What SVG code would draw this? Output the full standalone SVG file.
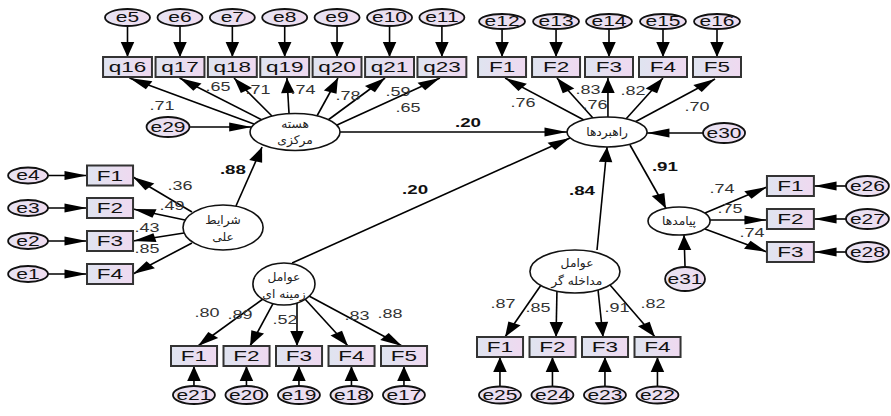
<svg xmlns="http://www.w3.org/2000/svg" width="891" height="416" viewBox="0 0 891 416">
  <defs>
    <style>
      .a { stroke: #000; stroke-width: 1.6; fill: none; vector-effect: non-scaling-stroke; marker-end: url(#ah); }
      .box { fill: url(#boxFill); stroke: #333; stroke-width: 2; vector-effect: non-scaling-stroke; }
      .err { fill: url(#errFill); stroke: #111; stroke-width: 1.8; vector-effect: non-scaling-stroke; }
      .lat { fill: #fff; stroke: #111; stroke-width: 1.6; vector-effect: non-scaling-stroke; }
      text { text-anchor: middle; dominant-baseline: central; }
      .n { font-family: "Liberation Sans", Arial, sans-serif; font-size: 15px; fill: #111; }
      .e { font-family: "Liberation Sans", Arial, sans-serif; font-size: 14px; fill: #111; }
      .c { font-family: "Liberation Sans", Arial, sans-serif; font-size: 12px; fill: #333; }
      .b { font-family: "Liberation Sans", Arial, sans-serif; font-size: 12.5px; font-weight: bold; fill: #111; }
      .fa { font-family: "DejaVu Sans", "Noto Sans", sans-serif; font-size: 12px; fill: #222; direction: rtl;
            transform-box: fill-box; transform-origin: center; transform: scaleX(0.68); }
    </style>
    <linearGradient id="boxFill" x1="0" y1="0" x2="1" y2="0">
      <stop offset="0" stop-color="#dfe4f0"/>
      <stop offset="1" stop-color="#efd9f0"/>
    </linearGradient>
    <linearGradient id="errFill" x1="0" y1="0" x2="1" y2="0">
      <stop offset="0" stop-color="#e6e3f3"/>
      <stop offset="1" stop-color="#f0dcef"/>
    </linearGradient>
    <marker id="ah" markerUnits="userSpaceOnUse" markerWidth="16" markerHeight="10" refX="15" refY="4.5" orient="auto" overflow="visible">
      <path d="M0,0 L15,4.5 L0,9 Z" fill="#000"/>
    </marker>
  </defs>

  <rect width="891" height="416" fill="#fff"/>

  <!-- the model is laid out in a horizontally stretched frame -->
  <g transform="scale(1.5,1)">

    <g id="connectors">
      <!-- errors to core indicators -->
      <line class="a" x1="85" y1="26" x2="85" y2="57"/>
      <line class="a" x1="120" y1="26" x2="120" y2="57"/>
      <line class="a" x1="154.9" y1="26" x2="154.9" y2="57"/>
      <line class="a" x1="189.8" y1="26" x2="189.8" y2="57"/>
      <line class="a" x1="224.7" y1="26" x2="224.7" y2="57"/>
      <line class="a" x1="259.7" y1="26" x2="259.7" y2="57"/>
      <line class="a" x1="294.6" y1="26" x2="294.6" y2="57"/>
      <!-- core loadings -->
      <line class="a" x1="169.3" y1="124" x2="86.3" y2="78"/>
      <line class="a" x1="174.7" y1="120" x2="119.7" y2="78"/>
      <line class="a" x1="181.3" y1="116" x2="156" y2="78"/>
      <line class="a" x1="192.7" y1="114" x2="191.3" y2="78"/>
      <line class="a" x1="211.3" y1="116" x2="225.3" y2="78"/>
      <line class="a" x1="218.7" y1="120" x2="256.7" y2="78"/>
      <line class="a" x1="224.7" y1="125" x2="293.3" y2="78"/>
      <line class="a" x1="126.7" y1="127" x2="167.8" y2="127"/>
      <!-- structural paths -->
      <line class="a" x1="226.7" y1="132" x2="378" y2="132"/>
      <line class="a" x1="157.3" y1="206" x2="174.7" y2="147"/>
      <line class="a" x1="194.7" y1="263" x2="380" y2="138"/>
      <line class="a" x1="398" y1="250" x2="404.7" y2="147"/>
      <line class="a" x1="420" y1="145" x2="444" y2="208.5"/>
      <line class="a" x1="468.7" y1="133" x2="431.3" y2="133"/>
      <line class="a" x1="456.7" y1="267" x2="456" y2="235"/>
      <!-- errors to strategy indicators -->
      <line class="a" x1="334.7" y1="29" x2="334.7" y2="57"/>
      <line class="a" x1="370.7" y1="29" x2="370.7" y2="57"/>
      <line class="a" x1="406" y1="29" x2="406" y2="57"/>
      <line class="a" x1="442" y1="29" x2="442" y2="57"/>
      <line class="a" x1="478" y1="29" x2="478" y2="57"/>
      <!-- strategy loadings -->
      <line class="a" x1="389.3" y1="120" x2="336.7" y2="78"/>
      <line class="a" x1="395.3" y1="118" x2="371.3" y2="78"/>
      <line class="a" x1="405.3" y1="117" x2="405.3" y2="78"/>
      <line class="a" x1="417.3" y1="119" x2="442" y2="78"/>
      <line class="a" x1="423.3" y1="122" x2="476.7" y2="79"/>
      <!-- causal conditions -->
      <line class="a" x1="32" y1="175.5" x2="58" y2="175.5"/>
      <line class="a" x1="32" y1="208" x2="58" y2="208"/>
      <line class="a" x1="32" y1="241" x2="58" y2="241"/>
      <line class="a" x1="32" y1="274" x2="58" y2="274"/>
      <line class="a" x1="128" y1="212" x2="88.7" y2="177"/>
      <line class="a" x1="123.3" y1="220" x2="88.7" y2="209"/>
      <line class="a" x1="122.7" y1="233" x2="88.7" y2="241"/>
      <line class="a" x1="128" y1="243" x2="88.7" y2="274"/>
      <!-- context loadings -->
      <line class="a" x1="175.3" y1="299" x2="132" y2="346"/>
      <line class="a" x1="182" y1="303.6" x2="166.7" y2="346"/>
      <line class="a" x1="198" y1="303" x2="198" y2="346"/>
      <line class="a" x1="203.3" y1="299" x2="232" y2="346"/>
      <line class="a" x1="206" y1="296" x2="268" y2="346"/>
      <line class="a" x1="129.3" y1="386" x2="129.3" y2="366"/>
      <line class="a" x1="164.3" y1="386" x2="164.3" y2="366"/>
      <line class="a" x1="199.3" y1="386" x2="199.3" y2="366"/>
      <line class="a" x1="234.3" y1="386" x2="234.3" y2="366"/>
      <line class="a" x1="269.3" y1="386" x2="269.3" y2="366"/>
      <!-- intervening loadings -->
      <line class="a" x1="360.7" y1="285" x2="336.7" y2="337"/>
      <line class="a" x1="371.3" y1="291" x2="370.7" y2="337"/>
      <line class="a" x1="398.7" y1="290" x2="402" y2="337"/>
      <line class="a" x1="406.7" y1="285" x2="436.7" y2="337"/>
      <line class="a" x1="333.3" y1="386.5" x2="333.3" y2="357"/>
      <line class="a" x1="368.3" y1="386.5" x2="368.3" y2="357"/>
      <line class="a" x1="403.3" y1="386.5" x2="403.3" y2="357"/>
      <line class="a" x1="438.3" y1="386.5" x2="438.3" y2="357"/>
      <!-- outcome loadings -->
      <line class="a" x1="470" y1="213" x2="511.3" y2="187"/>
      <line class="a" x1="473.3" y1="220" x2="511.3" y2="220"/>
      <line class="a" x1="470" y1="229" x2="511.3" y2="252"/>
      <line class="a" x1="564" y1="186" x2="542.7" y2="186"/>
      <line class="a" x1="564" y1="219" x2="542.7" y2="219"/>
      <line class="a" x1="564" y1="252" x2="542.7" y2="252"/>
    </g>

    <g id="coefficients">
      <text class="c" x="108" y="106">.71</text>
      <text class="c" x="145.3" y="87">.65</text>
      <text class="c" x="172" y="90">.71</text>
      <text class="c" x="202" y="90">.74</text>
      <text class="c" x="232" y="96">.78</text>
      <text class="c" x="265.3" y="92">.59</text>
      <text class="c" x="272" y="108">.65</text>
      <text class="c" x="348.7" y="103">.76</text>
      <text class="c" x="392" y="90">.83</text>
      <text class="c" x="396.7" y="105">.76</text>
      <text class="c" x="422" y="91">.82</text>
      <text class="c" x="464.7" y="107">.70</text>
      <text class="c" x="120" y="186">.36</text>
      <text class="c" x="114.7" y="206">.49</text>
      <text class="c" x="98" y="228">.43</text>
      <text class="c" x="98" y="249">.85</text>
      <text class="c" x="138" y="313">.80</text>
      <text class="c" x="160" y="315">.89</text>
      <text class="c" x="190" y="320">.52</text>
      <text class="c" x="238" y="316">.83</text>
      <text class="c" x="260" y="314">.88</text>
      <text class="c" x="335.3" y="304">.87</text>
      <text class="c" x="358.7" y="308">.85</text>
      <text class="c" x="411.3" y="308">.91</text>
      <text class="c" x="435.3" y="304">.82</text>
      <text class="c" x="481.3" y="189">.74</text>
      <text class="c" x="486.7" y="209">.75</text>
      <text class="c" x="501.3" y="233">.74</text>
      <text class="b" x="312" y="123">.20</text>
      <text class="b" x="155.3" y="170">.88</text>
      <text class="b" x="276.7" y="190">.20</text>
      <text class="b" x="388" y="191">.84</text>
      <text class="b" x="443.3" y="167">.91</text>
    </g>

    <!-- core category and its indicators -->
    <g id="core">
      <ellipse class="lat" cx="196.7" cy="132" rx="30" ry="18.5"/>
      <text class="fa" x="196.7" y="124">هسته</text>
      <text class="fa" x="196.7" y="140">مرکزی</text>
    </g>
    <g id="e29"><ellipse class="err" cx="112" cy="127" rx="14.3" ry="10"/><text class="e" x="112" y="127">e29</text></g>
    <g id="e5"><ellipse class="err" cx="85" cy="17.5" rx="15" ry="8.5"/><text class="e" x="85" y="17.5">e5</text></g>
    <g id="e6"><ellipse class="err" cx="120" cy="17.5" rx="15" ry="8.5"/><text class="e" x="120" y="17.5">e6</text></g>
    <g id="e7"><ellipse class="err" cx="154.9" cy="17.5" rx="15" ry="8.5"/><text class="e" x="154.9" y="17.5">e7</text></g>
    <g id="e8"><ellipse class="err" cx="189.8" cy="17.5" rx="15" ry="8.5"/><text class="e" x="189.8" y="17.5">e8</text></g>
    <g id="e9"><ellipse class="err" cx="224.7" cy="17.5" rx="15" ry="8.5"/><text class="e" x="224.7" y="17.5">e9</text></g>
    <g id="e10"><ellipse class="err" cx="259.7" cy="17.5" rx="15" ry="8.5"/><text class="e" x="259.7" y="17.5">e10</text></g>
    <g id="e11"><ellipse class="err" cx="294.6" cy="17.5" rx="15" ry="8.5"/><text class="e" x="294.6" y="17.5">e11</text></g>
    <g id="q16"><rect class="box" x="68.7" y="57" width="32.6" height="20"/><text class="n" x="85" y="67">q16</text></g>
    <g id="q17"><rect class="box" x="103.7" y="57" width="32.6" height="20"/><text class="n" x="120" y="67">q17</text></g>
    <g id="q18"><rect class="box" x="138.6" y="57" width="32.6" height="20"/><text class="n" x="154.9" y="67">q18</text></g>
    <g id="q19"><rect class="box" x="173.5" y="57" width="32.6" height="20"/><text class="n" x="189.8" y="67">q19</text></g>
    <g id="q20"><rect class="box" x="208.4" y="57" width="32.6" height="20"/><text class="n" x="224.7" y="67">q20</text></g>
    <g id="q21"><rect class="box" x="243.4" y="57" width="32.6" height="20"/><text class="n" x="259.7" y="67">q21</text></g>
    <g id="q23"><rect class="box" x="278.3" y="57" width="32.6" height="20"/><text class="n" x="294.6" y="67">q23</text></g>

    <!-- strategies -->
    <g id="strategies">
      <ellipse class="lat" cx="404.7" cy="132" rx="26.7" ry="15"/>
      <text class="fa" x="404.7" y="132">راهبردها</text>
    </g>
    <g id="e30"><ellipse class="err" cx="482.7" cy="133" rx="14" ry="10"/><text class="e" x="482.7" y="133">e30</text></g>
    <g id="e12"><ellipse class="err" cx="334.7" cy="21.5" rx="15.3" ry="7.5"/><text class="e" x="334.7" y="21.5">e12</text></g>
    <g id="e13"><ellipse class="err" cx="370.7" cy="21.5" rx="15.3" ry="7.5"/><text class="e" x="370.7" y="21.5">e13</text></g>
    <g id="e14"><ellipse class="err" cx="406" cy="21.5" rx="15.3" ry="7.5"/><text class="e" x="406" y="21.5">e14</text></g>
    <g id="e15"><ellipse class="err" cx="442" cy="21.5" rx="15.3" ry="7.5"/><text class="e" x="442" y="21.5">e15</text></g>
    <g id="e16"><ellipse class="err" cx="478" cy="21.5" rx="15.3" ry="7.5"/><text class="e" x="478" y="21.5">e16</text></g>
    <g id="strat-F1"><rect class="box" x="318.7" y="57" width="32" height="20"/><text class="n" x="334.7" y="67">F1</text></g>
    <g id="strat-F2"><rect class="box" x="354.7" y="57" width="32" height="20"/><text class="n" x="370.7" y="67">F2</text></g>
    <g id="strat-F3"><rect class="box" x="390" y="57" width="32" height="20"/><text class="n" x="406" y="67">F3</text></g>
    <g id="strat-F4"><rect class="box" x="426" y="57" width="32" height="20"/><text class="n" x="442" y="67">F4</text></g>
    <g id="strat-F5"><rect class="box" x="462" y="57" width="32" height="20"/><text class="n" x="478" y="67">F5</text></g>

    <!-- causal conditions -->
    <g id="causal">
      <ellipse class="lat" cx="148.7" cy="227.5" rx="26.7" ry="22.5"/>
      <text class="fa" x="148.7" y="220">شرایط</text>
      <text class="fa" x="148.7" y="237">علی</text>
    </g>
    <g id="e4"><ellipse class="err" cx="18.7" cy="175.5" rx="13.3" ry="8"/><text class="e" x="18.7" y="175.5">e4</text></g>
    <g id="e3"><ellipse class="err" cx="18.7" cy="208" rx="13.3" ry="8"/><text class="e" x="18.7" y="208">e3</text></g>
    <g id="e2"><ellipse class="err" cx="18.7" cy="241" rx="13.3" ry="8"/><text class="e" x="18.7" y="241">e2</text></g>
    <g id="e1"><ellipse class="err" cx="18.7" cy="274" rx="13.3" ry="8"/><text class="e" x="18.7" y="274">e1</text></g>
    <g id="causal-F1"><rect class="box" x="58" y="165.5" width="30.7" height="20"/><text class="n" x="73.3" y="175.5">F1</text></g>
    <g id="causal-F2"><rect class="box" x="58" y="198" width="30.7" height="20"/><text class="n" x="73.3" y="208">F2</text></g>
    <g id="causal-F3"><rect class="box" x="58" y="231" width="30.7" height="20"/><text class="n" x="73.3" y="241">F3</text></g>
    <g id="causal-F4"><rect class="box" x="58" y="264" width="30.7" height="20"/><text class="n" x="73.3" y="274">F4</text></g>

    <!-- contextual factors -->
    <g id="context">
      <ellipse class="lat" cx="189.3" cy="284" rx="20.7" ry="21"/>
      <text class="fa" x="189.3" y="277">عوامل</text>
      <text class="fa" x="189.3" y="294">زمینه ای</text>
    </g>
    <g id="context-F1"><rect class="box" x="114" y="346" width="30.7" height="20"/><text class="n" x="129.3" y="356">F1</text></g>
    <g id="context-F2"><rect class="box" x="149" y="346" width="30.7" height="20"/><text class="n" x="164.3" y="356">F2</text></g>
    <g id="context-F3"><rect class="box" x="184" y="346" width="30.7" height="20"/><text class="n" x="199.3" y="356">F3</text></g>
    <g id="context-F4"><rect class="box" x="219" y="346" width="30.7" height="20"/><text class="n" x="234.3" y="356">F4</text></g>
    <g id="context-F5"><rect class="box" x="254" y="346" width="30.7" height="20"/><text class="n" x="269.3" y="356">F5</text></g>
    <g id="e21"><ellipse class="err" cx="129.3" cy="395" rx="14" ry="9"/><text class="e" x="129.3" y="395">e21</text></g>
    <g id="e20"><ellipse class="err" cx="164.3" cy="395" rx="14" ry="9"/><text class="e" x="164.3" y="395">e20</text></g>
    <g id="e19"><ellipse class="err" cx="199.3" cy="395" rx="14" ry="9"/><text class="e" x="199.3" y="395">e19</text></g>
    <g id="e18"><ellipse class="err" cx="234.3" cy="395" rx="14" ry="9"/><text class="e" x="234.3" y="395">e18</text></g>
    <g id="e17"><ellipse class="err" cx="269.3" cy="395" rx="14" ry="9"/><text class="e" x="269.3" y="395">e17</text></g>

    <!-- intervening factors -->
    <g id="intervening">
      <ellipse class="lat" cx="383.3" cy="271.5" rx="30" ry="21.5"/>
      <text class="fa" x="384.7" y="263">عوامل</text>
      <text class="fa" x="384.7" y="281">مداخله گر</text>
    </g>
    <g id="inter-F1"><rect class="box" x="318" y="337" width="30.7" height="20"/><text class="n" x="333.3" y="347">F1</text></g>
    <g id="inter-F2"><rect class="box" x="353" y="337" width="30.7" height="20"/><text class="n" x="368.3" y="347">F2</text></g>
    <g id="inter-F3"><rect class="box" x="388" y="337" width="30.7" height="20"/><text class="n" x="403.3" y="347">F3</text></g>
    <g id="inter-F4"><rect class="box" x="423" y="337" width="30.7" height="20"/><text class="n" x="438.3" y="347">F4</text></g>
    <g id="e25"><ellipse class="err" cx="333.3" cy="395" rx="14" ry="8.5"/><text class="e" x="333.3" y="395">e25</text></g>
    <g id="e24"><ellipse class="err" cx="368.3" cy="395" rx="14" ry="8.5"/><text class="e" x="368.3" y="395">e24</text></g>
    <g id="e23"><ellipse class="err" cx="403.3" cy="395" rx="14" ry="8.5"/><text class="e" x="403.3" y="395">e23</text></g>
    <g id="e22"><ellipse class="err" cx="438.3" cy="395" rx="14" ry="8.5"/><text class="e" x="438.3" y="395">e22</text></g>

    <!-- outcomes -->
    <g id="outcomes">
      <ellipse class="lat" cx="452.7" cy="221" rx="20.7" ry="14"/>
      <text class="fa" x="452.7" y="221">پیامدها</text>
    </g>
    <g id="e31"><ellipse class="err" cx="456.7" cy="279" rx="13.3" ry="12"/><text class="e" x="456.7" y="279">e31</text></g>
    <g id="out-F1"><rect class="box" x="511.3" y="176" width="31.3" height="20"/><text class="n" x="527" y="186">F1</text></g>
    <g id="out-F2"><rect class="box" x="511.3" y="209" width="31.3" height="20"/><text class="n" x="527" y="219">F2</text></g>
    <g id="out-F3"><rect class="box" x="511.3" y="242" width="31.3" height="20"/><text class="n" x="527" y="252">F3</text></g>
    <g id="e26"><ellipse class="err" cx="578.3" cy="186" rx="14.3" ry="10"/><text class="e" x="578.3" y="186">e26</text></g>
    <g id="e27"><ellipse class="err" cx="578.3" cy="219" rx="14.3" ry="10"/><text class="e" x="578.3" y="219">e27</text></g>
    <g id="e28"><ellipse class="err" cx="578.3" cy="252" rx="14.3" ry="10"/><text class="e" x="578.3" y="252">e28</text></g>
  </g>
</svg>
